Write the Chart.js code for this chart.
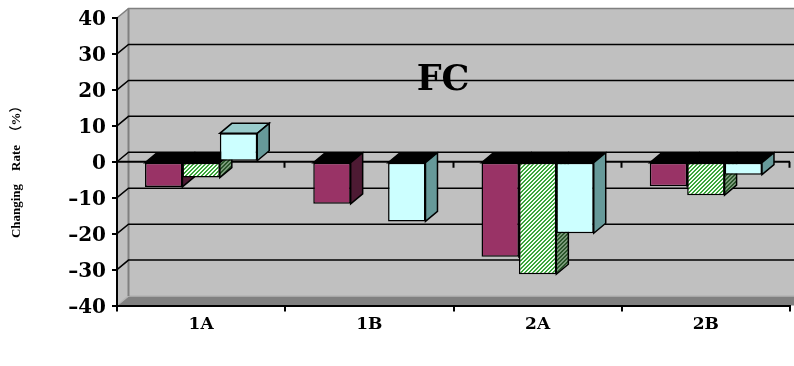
<!DOCTYPE html>
<html>
<head>
<meta charset="utf-8">
<script src="https://cdn.jsdelivr.net/npm/chart.js@4/dist/chart.umd.min.js"></script>
<style>
  html, body { margin: 0; padding: 0; background: #ffffff; }
  #wrap { width: 794px; height: 366px; }
</style>
</head>
<body>
<div id="wrap"><canvas id="c" width="794" height="366"></canvas></div>
<script>
// ---- data ----
const categories = ['1A', '1B', '2A', '2B'];
const seriesA = [-7.0, -11.7, -26.4, -6.8];
const seriesB = [-4.4, null, -31.3, -9.3];
const seriesC = [7.9, -16.6, -19.9, -3.6];
const valueTicks = [-40, -30, -20, -10, 0, 10, 20, 30, 40];
const chartTitle = 'FC';
const axisTitle = 'Changing    Rate  （%）';

// ---- depth of the walls and of the columns ----
const WALL_DX = 11.5, WALL_DY = 9.5;
const BAR_DX = 12, BAR_DY = 10;

function hatch(fg, bg) {
  const t = document.createElement('canvas');
  t.width = 4; t.height = 4;
  const g = t.getContext('2d');
  g.fillStyle = bg; g.fillRect(0, 0, 4, 4);
  g.fillStyle = fg;
  for (let px = 0; px < 4; px++) {
    for (let py = 0; py < 4; py++) {
      if ((px + py) % 4 < 2) g.fillRect(px, py, 1, 1);
    }
  }
  return g.createPattern(t, 'repeat');
}

const ctx = document.getElementById('c').getContext('2d');
const greenFront = hatch('#3aa53a', '#f4fff4');
const greenSide = hatch('#2a552a', '#7a9a7a');

const faces = [
  { side: '#4d1a33', top: '#cc6699' },
  { side: greenSide, top: '#99cc99' },
  { side: '#669999', top: '#99cccc' }
];

function poly(c, pts, fill, stroke, lw) {
  c.beginPath();
  c.moveTo(pts[0][0], pts[0][1]);
  for (let i = 1; i < pts.length; i++) c.lineTo(pts[i][0], pts[i][1]);
  c.closePath();
  if (fill) { c.fillStyle = fill; c.fill(); }
  if (stroke) { c.strokeStyle = stroke; c.lineWidth = lw || 1; c.stroke(); }
}

function line(c, pts, color, lw) {
  c.beginPath();
  c.moveTo(pts[0][0], pts[0][1]);
  for (let i = 1; i < pts.length; i++) c.lineTo(pts[i][0], pts[i][1]);
  c.strokeStyle = color; c.lineWidth = lw; c.stroke();
}

const scene3d = {
  id: 'scene3d',
  beforeDraw(chart) {
    const c = chart.ctx, a = chart.chartArea, y = chart.scales.y;
    const W = chart.width;
    const yTop = y.getPixelForValue(y.max), yBot = y.getPixelForValue(y.min);
    const L = a.left, bx = a.left + WALL_DX;
    c.save();
    c.fillStyle = '#ffffff';
    c.fillRect(0, 0, chart.width, chart.height);
    // back wall and left wall
    c.fillStyle = '#c0c0c0';
    c.fillRect(bx, yTop - WALL_DY, W - bx, yBot - yTop);
    poly(c, [[L, yTop], [bx, yTop - WALL_DY], [bx, yBot - WALL_DY], [L, yBot]], '#c0c0c0');
    // floor
    poly(c, [[L, yBot], [bx, yBot - WALL_DY], [W, yBot - WALL_DY], [W, yBot]], '#808080');
    line(c, [[L, yBot], [bx, yBot - WALL_DY], [W, yBot - WALL_DY]], '#b4b4b4', 1.5);
    // wall edges
    line(c, [[L, yTop], [bx, yTop - WALL_DY], [W, yTop - WALL_DY]], '#808080', 1.5);
    line(c, [[bx, yTop - WALL_DY], [bx, yBot - WALL_DY]], '#808080', 2);
    // gridlines across both walls
    valueTicks.forEach(v => {
      if (v === y.min || v === y.max) return;
      const p = y.getPixelForValue(v);
      line(c, [[L, p], [bx, p - WALL_DY], [W, p - WALL_DY]], '#000000', 1.5);
    });
    // category axis through zero, with its tick marks
    const p0 = y.getPixelForValue(0);
    line(c, [[L, p0], [a.right, p0]], '#000000', 2);
    const step = (a.right - a.left) / categories.length;
    for (let i = 1; i <= categories.length; i++) {
      const tx = Math.round(a.left + step * i) - 0.5;
      line(c, [[tx, p0], [tx, p0 + 6]], '#000000', 2);
    }
    // chart title on the back wall
    c.fillStyle = '#000000';
    c.font = 'bold 35px "DejaVu Serif", serif';
    c.textAlign = 'center';
    c.textBaseline = 'middle';
    c.fillText(chartTitle, 443, 81);
    c.restore();
  },
  // columns are painted series by series, left to right, each with its
  // top and side faces first and the front face last
  beforeDatasetsDraw(chart) {
    const c = chart.ctx, area = chart.chartArea;
    c.save();
    c.lineJoin = 'miter';
    chart.data.datasets.forEach((ds, idx) => {
      const meta = chart.getDatasetMeta(idx);
      const f = faces[idx];
      meta.data.forEach((el, i) => {
        const v = ds.data[i];
        if (v === null || v === undefined) return;
        const p = el.getProps(['x', 'y', 'base', 'width'], true);
        const L = p.x - p.width / 2, R = p.x + p.width / 2;
        const top = Math.min(p.y, p.base), bot = Math.max(p.y, p.base);
        poly(c, [[L, top], [R, top], [R + BAR_DX, top - BAR_DY], [L + BAR_DX, top - BAR_DY]],
          v >= 0 ? f.top : '#000000', '#000000', 1.5);
        poly(c, [[R, top], [R, bot], [R + BAR_DX, bot - BAR_DY], [R + BAR_DX, top - BAR_DY]],
          f.side, '#000000', 1.5);
        el.draw(c, area);
      });
    });
    c.restore();
  },
  beforeDatasetDraw() {
    return false;
  },
  // rotated value-axis caption, set a little below the middle of the axis
  afterDraw(chart) {
    const c = chart.ctx, a = chart.chartArea;
    c.save();
    c.translate(17, (a.top + a.bottom) / 2 + 7);
    c.rotate(-Math.PI / 2);
    c.fillStyle = '#000000';
    c.font = 'bold 13px "Liberation Serif", "Noto Sans CJK SC", serif';
    c.textAlign = 'center';
    c.textBaseline = 'middle';
    c.fillText(axisTitle, 0, 0);
    c.restore();
  }
};

new Chart(ctx, {
  type: 'bar',
  data: {
    labels: categories,
    datasets: [
      { label: 'A', data: seriesA, backgroundColor: '#993366' },
      { label: 'B', data: seriesB, backgroundColor: greenFront },
      { label: 'C', data: seriesC, backgroundColor: '#ccffff' }
    ]
  },
  options: {
    responsive: false,
    animation: false,
    devicePixelRatio: 1,
    layout: { padding: { top: 15, right: 4, left: 0, bottom: 0 } },
    datasets: {
      bar: {
        borderColor: '#000000',
        borderWidth: 1.5,
        borderSkipped: false,
        barPercentage: 1,
        categoryPercentage: 0.667
      }
    },
    plugins: {
      legend: { display: false },
      tooltip: { enabled: false },
      title: { display: false }
    },
    scales: {
      x: {
        type: 'category',
        grid: { offset: true, drawOnChartArea: false, drawTicks: true, tickLength: 6, color: '#000000', lineWidth: 2 },
        border: { display: true, color: '#000000', width: 2 },
        ticks: {
          color: '#000000',
          font: { family: '"DejaVu Serif", serif', weight: 'bold', size: 17 },
          padding: 3,
          maxRotation: 0
        },
        afterFit(scale) { scale.height = 60.5; }
      },
      y: {
        min: -40,
        max: 40,
        afterBuildTicks(scale) { scale.ticks = valueTicks.map(v => ({ value: v })); },
        grid: { drawOnChartArea: false, drawTicks: true, tickLength: 5, color: '#000000', lineWidth: 2 },
        border: { display: true, color: '#000000', width: 2 },
        ticks: {
          color: '#000000',
          font: { family: '"DejaVu Serif", serif', weight: 'bold', size: 20 },
          padding: 6,
          labelOffset: 2,
          callback: v => (v < 0 ? '–' + Math.abs(v) : String(v))
        },
        title: { display: false },
        afterFit(scale) { scale.width = 117; }
      }
    }
  },
  plugins: [scene3d]
});
</script>
</body>
</html>
